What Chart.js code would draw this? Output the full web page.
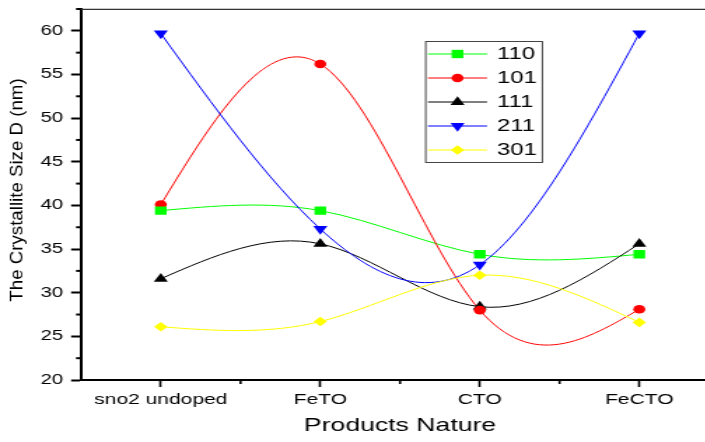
<!DOCTYPE html>
<html>
<head>
<meta charset="utf-8">
<title>Crystallite size by product</title>
<script src="https://cdn.jsdelivr.net/npm/chart.js@4.4.1/dist/chart.umd.min.js"></script>
<style>
  html, body { margin: 0; padding: 0; overflow: hidden; background: #ffffff; }
  /* the drawing surface is rendered narrow and widened horizontally */
  #wrap { width: 530px; height: 442px; transform: scaleX(1.4); transform-origin: 0 0; }
  #chart { display: block; }
</style>
</head>
<body>
<div id="wrap"><canvas id="chart" width="530" height="442" style="width:530px;height:442px"></canvas></div>
<script>
// ---- data ----
const categories = ['sno2 undoped', 'FeTO', 'CTO', 'FeCTO'];
const size110 = [39.4, 39.4, 34.4, 34.4];
const size101 = [40.1, 56.2, 28.0, 28.1];
const size111 = [31.6, 35.6, 28.4, 35.6];
const size211 = [59.7, 37.3, 33.2, 59.7];
const size301 = [26.1, 26.7, 32.0, 26.6];
const seriesLabels = ['110', '101', '111', '211', '301'];
const yMin = 20;
const yMax = 62.5;
const yMinorStep = 2.5;
const yMajorStep = 5;
const xTitle = 'Products Nature';
const yTitle = 'The Crystallite Size D (nm)';

const seriesValues = [size110, size101, size111, size211, size301];

// ---- appearance ----
const SX = 1.4;                     // horizontal widening of the canvas
const FONT = "'Liberation Sans', Arial, Helvetica, sans-serif";
const seriesStyles = [
  { color: '#00ff00', pointStyle: 'rect',     radius: 5.9, rotation: 0 },
  { color: '#ff0000', pointStyle: 'circle',   radius: 4.3, rotation: 0 },
  { color: '#000000', pointStyle: 'triangle', radius: 5.8, rotation: 0 },
  { color: '#0000ff', pointStyle: 'triangle', radius: 5.8, rotation: 180 },
  { color: '#ffff00', pointStyle: 'rectRot',  radius: 4.8, rotation: 0 }
];

Chart.defaults.font.family = FONT;
Chart.defaults.color = '#000';

// second derivatives of a natural cubic spline through evenly spaced samples
function naturalSecondDerivs(y) {
  const n = y.length;
  const M = new Array(n).fill(0);
  if (n < 3) return M;
  const m = n - 2, c = new Array(m), d = new Array(m);
  for (let i = 0; i < m; i++) {
    const rhs = 6 * (y[i] - 2 * y[i + 1] + y[i + 2]);
    if (i === 0) { c[i] = 1 / 4; d[i] = rhs / 4; }
    else { const den = 4 - c[i - 1]; c[i] = 1 / den; d[i] = (rhs - d[i - 1]) / den; }
  }
  M[m] = d[m - 1];
  for (let i = m - 2; i >= 0; i--) M[i + 1] = d[i] - c[i] * M[i + 2];
  return M;
}

// smooth connecting curves through each series' points, under the markers
const splineLines = {
  id: 'splineLines',
  beforeDatasetsDraw(chart) {
    const ctx = chart.ctx;
    chart.data.datasets.forEach((ds, i) => {
      const meta = chart.getDatasetMeta(i);
      const pts = meta.data.map(p => ({ x: p.x, y: p.y }));
      if (pts.length < 2) return;
      const M = naturalSecondDerivs(pts.map(p => p.y));
      ctx.save();
      ctx.strokeStyle = ds.borderColor;
      ctx.lineWidth = 1;
      ctx.beginPath();
      ctx.moveTo(pts[0].x, pts[0].y);
      for (let k = 0; k < pts.length - 1; k++) {
        const y0 = pts[k].y, y1 = pts[k + 1].y;
        const d0 = (y1 - y0) - (2 * M[k] + M[k + 1]) / 6;
        const d1 = (y1 - y0) + (M[k] + 2 * M[k + 1]) / 6;
        const dx = pts[k + 1].x - pts[k].x;
        ctx.bezierCurveTo(pts[k].x + dx / 3, y0 + d0 / 3,
                          pts[k + 1].x - dx / 3, y1 - d1 / 3,
                          pts[k + 1].x, y1);
      }
      ctx.stroke();
      ctx.restore();
    });
  }
};

function drawMarker(ctx, style, x, y) {
  ctx.fillStyle = style.color;
  ctx.strokeStyle = style.color;
  const opts = { pointStyle: style.pointStyle, rotation: style.rotation, radius: style.radius, borderWidth: 0 };
  if (Chart.helpers && Chart.helpers.drawPoint) {
    Chart.helpers.drawPoint(ctx, opts, x, y);
    return;
  }
  const r = style.radius;
  ctx.beginPath();
  if (style.pointStyle === 'circle') {
    ctx.arc(x, y, r, 0, Math.PI * 2);
  } else if (style.pointStyle === 'rect') {
    const s = r * Math.SQRT1_2;
    ctx.rect(x - s, y - s, 2 * s, 2 * s);
  } else if (style.pointStyle === 'rectRot') {
    ctx.moveTo(x, y - r); ctx.lineTo(x + r, y); ctx.lineTo(x, y + r); ctx.lineTo(x - r, y);
  } else {
    const sgn = style.rotation === 180 ? -1 : 1;
    ctx.moveTo(x, y - sgn * r);
    ctx.lineTo(x + r * 0.866, y + sgn * r / 2);
    ctx.lineTo(x - r * 0.866, y + sgn * r / 2);
  }
  ctx.closePath();
  ctx.fill();
}

// frame top line, minor ticks, rotated y title and the boxed legend
const frameAndLegend = {
  id: 'frameAndLegend',
  afterDraw(chart) {
    const ctx = chart.ctx;
    const area = chart.chartArea;
    const xs = chart.scales.x, ys = chart.scales.y;

    ctx.save();
    // top frame line
    ctx.strokeStyle = '#333';
    ctx.lineWidth = 1.3;
    ctx.beginPath();
    ctx.moveTo(area.left, area.top + 0.3);
    ctx.lineTo(chart.width, area.top + 0.3);
    ctx.stroke();

    // minor ticks on the y axis
    ctx.strokeStyle = '#000';
    ctx.lineWidth = 2;
    ys.ticks.forEach(t => {
      if (Math.abs(t.value / yMajorStep - Math.round(t.value / yMajorStep)) > 1e-6) {
        const py = ys.getPixelForValue(t.value);
        ctx.beginPath();
        ctx.moveTo(area.left - 3.6, py);
        ctx.lineTo(area.left, py);
        ctx.stroke();
      }
    });
    // minor ticks on the x axis, halfway between categories
    ctx.lineWidth = 1.6;
    for (let i = 0; i < categories.length - 1; i++) {
      const px = (xs.getPixelForTick(i) + xs.getPixelForTick(i + 1)) / 2;
      ctx.beginPath();
      ctx.moveTo(px, area.bottom);
      ctx.lineTo(px, area.bottom + 4);
      ctx.stroke();
    }

    // y axis title, kept at natural proportions
    ctx.save();
    ctx.translate(12.3, 190);
    ctx.scale(1 / SX, 1);
    ctx.rotate(-Math.PI / 2);
    ctx.font = '18.7px ' + FONT;
    ctx.fillStyle = '#000';
    ctx.textAlign = 'center';
    ctx.textBaseline = 'middle';
    ctx.fillText(yTitle, 0, 0);
    ctx.restore();

    // legend box
    const box = { left: 303.6, top: 41, right: 387.9, bottom: 163 };
    ctx.fillStyle = '#fff';
    ctx.fillRect(box.left, box.top, box.right - box.left, box.bottom - box.top);
    ctx.strokeStyle = '#444';
    ctx.lineWidth = 1;
    ctx.strokeRect(box.left + 0.5, box.top + 0.5, box.right - box.left - 1, box.bottom - box.top - 1);
    chart.data.datasets.forEach((ds, i) => {
      const st = seriesStyles[i];
      const ry = box.top + 13 + i * 24;
      ctx.strokeStyle = st.color;
      ctx.lineWidth = 1;
      ctx.beginPath();
      ctx.moveTo(305.7, ry);
      ctx.lineTo(347.9, ry);
      ctx.stroke();
      drawMarker(ctx, st, 326.8, ry);
      ctx.fillStyle = '#000';
      ctx.font = '17px ' + FONT;
      ctx.textAlign = 'left';
      ctx.textBaseline = 'middle';
      ctx.fillText(ds.label, 355, ry);
    });
    ctx.restore();
  }
};

new Chart(document.getElementById('chart'), {
  type: 'line',
  data: {
    labels: categories,
    datasets: seriesValues.map((vals, i) => ({
      label: seriesLabels[i],
      data: vals,
      showLine: false,
      borderColor: seriesStyles[i].color,
      backgroundColor: seriesStyles[i].color,
      pointBackgroundColor: seriesStyles[i].color,
      pointBorderColor: seriesStyles[i].color,
      pointBorderWidth: 0,
      pointStyle: seriesStyles[i].pointStyle,
      pointRotation: seriesStyles[i].rotation,
      pointRadius: seriesStyles[i].radius,
      pointHoverRadius: seriesStyles[i].radius
    }))
  },
  options: {
    responsive: false,
    animation: false,
    devicePixelRatio: 1,
    events: [],
    layout: { padding: { left: 0, right: 16.4, top: 9, bottom: 0 } },
    plugins: { legend: { display: false }, tooltip: { enabled: false } },
    scales: {
      x: {
        type: 'category',
        offset: true,
        grid: { display: true, drawOnChartArea: false, offset: false, tickLength: 7, tickWidth: 1.6, tickColor: '#000' },
        border: { display: true, color: '#000', width: 2 },
        ticks: { color: '#000', font: { size: 15 }, padding: 4, maxRotation: 0, autoSkip: false },
        title: { display: true, text: xTitle, color: '#000', font: { size: 19 }, padding: { top: 0, bottom: 5 } },
        afterFit(scale) { scale.height = 62; scale.paddingLeft = 0; scale.paddingRight = 0; }
      },
      y: {
        min: yMin,
        max: yMax,
        grid: {
          display: true, drawOnChartArea: false, tickLength: 7.1, tickWidth: 2,
          tickColor: c => (c.tick && Math.abs(c.tick.value % yMajorStep) < 1e-6) ? '#000' : 'rgba(0,0,0,0)'
        },
        border: { display: true, color: '#000', width: 2 },
        ticks: {
          stepSize: yMinorStep,
          autoSkip: false,
          color: '#000',
          font: { size: 14.5 },
          padding: 5.7,
          callback: v => (Math.abs(v % yMajorStep) < 1e-6 ? String(v) : '')
        },
        afterFit(scale) { scale.width = 57.9; scale.paddingTop = 0; scale.paddingBottom = 0; }
      }
    }
  },
  plugins: [splineLines, frameAndLegend]
});
</script>
</body>
</html>
